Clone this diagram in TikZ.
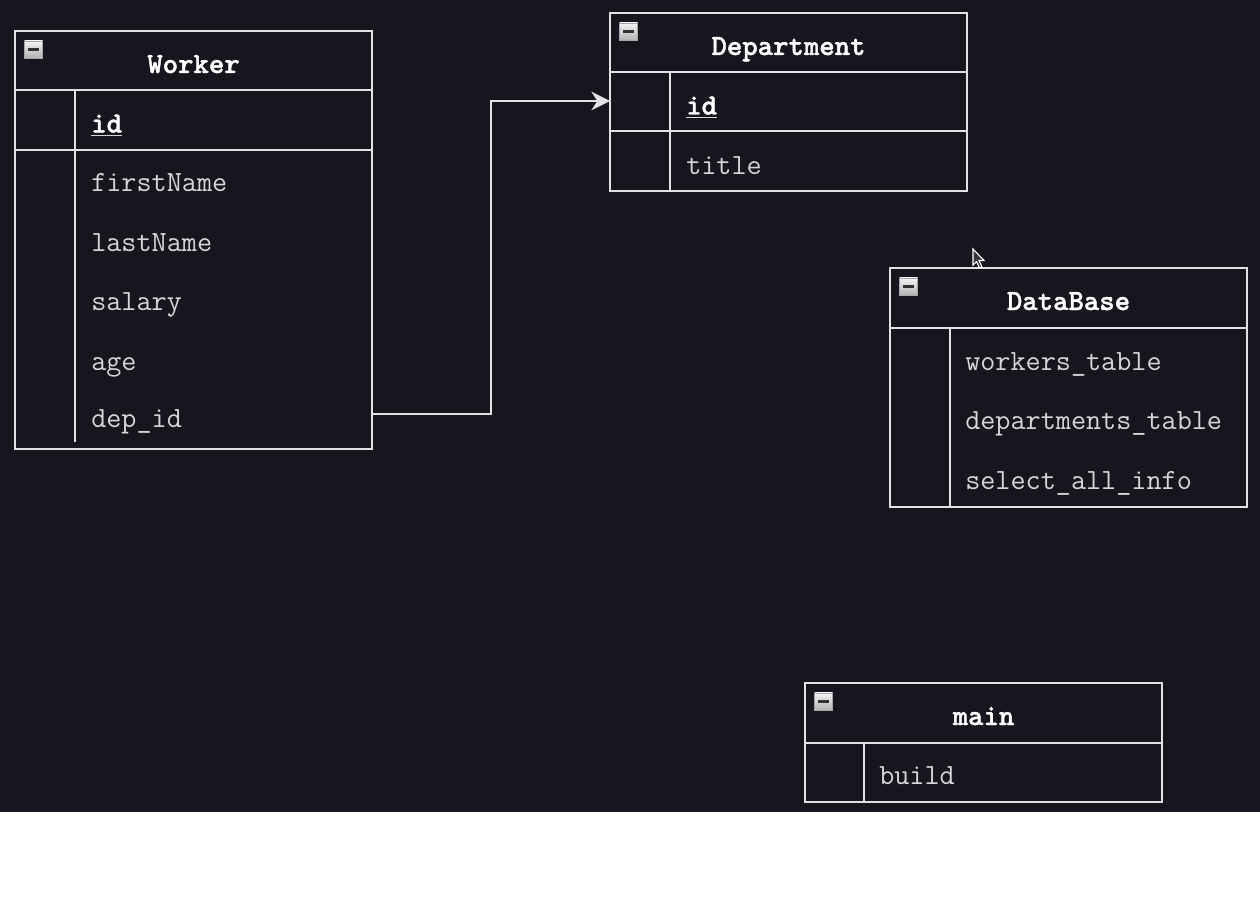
\documentclass[tikz,border=0pt]{standalone}
\usepackage{fontspec}
\usetikzlibrary{arrows.meta,fit}

% heavy typewriter face for table titles and key fields
\newfontfamily\heavymono{lmmonolt10-bold}[Extension=.otf, FakeBold=1.4]

\definecolor{canvas}{RGB}{24,21,30}
\definecolor{edge}{RGB}{226,226,230}
\definecolor{fieldtext}{RGB}{214,214,214}

\tikzset{
  x=0.75pt, y=-0.75pt,
  tablebox/.style={draw=edge, line width=1.5pt, inner sep=0pt, outer sep=0pt},
  rule/.style={draw=edge, line width=1.5pt},
  iconbox/.style={draw=gray!70, line width=0.6pt, top color=white!92!gray, bottom color=gray!60,
    minimum width=13.5pt, minimum height=12.8pt, inner sep=0pt},
  iconbar/.style={draw=black!80, line width=1.6pt},
  title/.style={font=\heavymono\fontsize{22}{26}\selectfont, text=white, anchor=base, inner sep=0pt},
  field/.style={font=\ttfamily\fontsize{22}{26}\selectfont, text=fieldtext, anchor=base west, inner sep=0pt},
  keyfield/.style={field, font=\heavymono\fontsize{22}{26}\selectfont, text=white},
  keyline/.style={draw=fieldtext, line width=1.3pt},
  conn/.style={draw=edge, line width=1.5pt, -{Stealth[length=14pt,width=14pt,inset=4.5pt]}},
  pointer/.style={draw=white, fill=canvas!70!gray, line width=0.8pt, line join=miter},
}

% #1 name, #2 left, #3 top, #4 right, #5 bottom,
% #6 header bottom, #7 key column x, #8 key column bottom, #9 title
\newcommand{\ertable}[9]{%
  \node[tablebox, fit={(#2,#3) (#4,#5)}] (#1) {};
  \draw[rule] (#1.west |- {0,#6}) -- (#1.east |- {0,#6});
  \draw[rule] (#7,#6) -- (#7,#8);
  \node[iconbox] (#1-icon) at ({#2+18.5},{#3+18.5}) {};
  \draw[iconbar] ([xshift=-4pt]#1-icon.center) -- ([xshift=4pt]#1-icon.center);
  \node[title] (#1-title) at ({(#2+#4)/2},{#3+42}) {#9};
}

\begin{document}
\begin{tikzpicture}
  % page and canvas
  \fill[white] (0,0) rectangle (1260,906);
  \fill[canvas] (0,0) rectangle (1260,812);
  \useasboundingbox (0,0) rectangle (1260,906);

  % Worker
  \ertable{worker}{15}{31}{372}{449}{90}{75}{442}{Worker}
  \draw[rule] (worker.west |- {0,150}) -- (worker.east |- {0,150});
  \node[keyfield] (w-id) at (91,132.5) {id};
  \draw[keyline] ([yshift=-2.2pt]w-id.base west) -- ([yshift=-2.2pt]w-id.base east);
  \node[field] (w-first) at (91,191.5) {firstName};
  \node[field] (w-last)  at (91,251) {lastName};
  \node[field] (w-sal)   at (91,310.5) {salary};
  \node[field] (w-age)   at (91,370) {age};
  \node[field] (w-dep)   at (91,427.5) {dep\_id};

  % Department
  \ertable{dept}{610}{13}{967}{191}{72}{670}{191}{Department}
  \draw[rule] (dept.west |- {0,131}) -- (dept.east |- {0,131});
  \node[keyfield] (d-id) at (686,114.5) {id};
  \draw[keyline] ([yshift=-2.2pt]d-id.base west) -- ([yshift=-2.2pt]d-id.base east);
  \node[field] (d-title) at (686,174.5) {title};

  % DataBase
  \ertable{db}{890}{268}{1247}{507}{328}{950}{507}{DataBase}
  \node[field] (db-w) at (965,370.5) {workers\_table};
  \node[field] (db-d) at (965,429.5) {departments\_table};
  \node[field] (db-s) at (965,489) {select\_all\_info};

  % main
  \ertable{main}{805}{683}{1162}{802}{743}{864}{802}{main}
  \node[field] (m-build) at (879,784.5) {build};

  % foreign key dep_id -> Department.id
  \coordinate (wdep) at (15,414);
  \coordinate (did) at (610,101);
  \coordinate (bend) at (491,0);
  \draw[conn] (worker.east |- wdep) -| (bend |- did) -- (dept.west |- did);

  % mouse pointer
  \draw[pointer] (973,249) -- (973,265) -- (976.5,261.5) -- (979.5,268) -- (982,267)
    -- (979,260.5) -- (984,260.5) -- cycle;
\end{tikzpicture}
\end{document}
